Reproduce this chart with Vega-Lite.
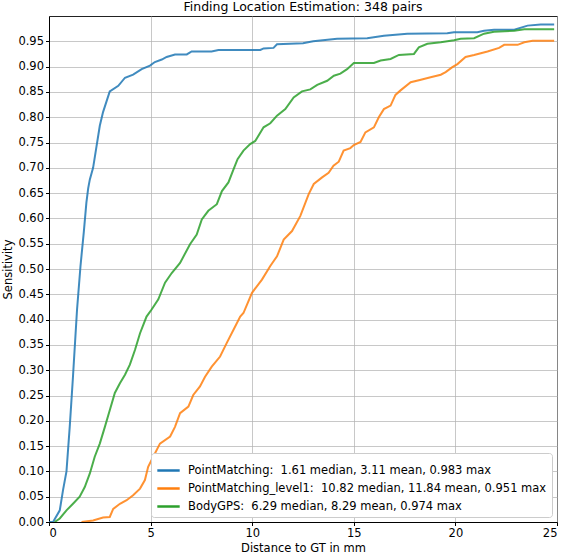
{
  "$schema": "https://vega.github.io/schema/vega-lite/v6.json",
  "width": 508,
  "height": 506,
  "autosize": {"type": "none"},
  "padding": {"left": 49, "top": 16, "right": 7, "bottom": 32},
  "title": {
    "text": "Finding Location Estimation: 348 pairs",
    "fontSize": 12.5,
    "fontWeight": "normal",
    "font": "DejaVu Sans",
    "color": "black",
    "offset": 3
  },
  "config": {
    "font": "DejaVu Sans",
    "view": {"stroke": "#222", "strokeWidth": 1},
    "axis": {
      "labelFont": "DejaVu Sans",
      "labelFontSize": 11.5,
      "labelColor": "black",
      "titleFont": "DejaVu Sans",
      "titleFontSize": 11.5,
      "titleFontWeight": "normal",
      "titleColor": "black",
      "tickColor": "black",
      "tickSize": 3.5,
      "domainColor": "black",
      "gridColor": "#b0b0b0",
      "gridOpacity": 0.7
    }
  },
  "data": {
    "values": [
      {"series": "PointMatching", "x": 0, "y": 0},
      {"series": "PointMatching", "x": 0.2, "y": 0},
      {"series": "PointMatching", "x": 0.53, "y": 0.023},
      {"series": "PointMatching", "x": 0.69, "y": 0.063},
      {"series": "PointMatching", "x": 0.86, "y": 0.1},
      {"series": "PointMatching", "x": 1.02, "y": 0.188},
      {"series": "PointMatching", "x": 1.18, "y": 0.287},
      {"series": "PointMatching", "x": 1.38, "y": 0.42},
      {"series": "PointMatching", "x": 1.55, "y": 0.506},
      {"series": "PointMatching", "x": 1.71, "y": 0.572},
      {"series": "PointMatching", "x": 1.84, "y": 0.631},
      {"series": "PointMatching", "x": 1.93, "y": 0.66},
      {"series": "PointMatching", "x": 2.01, "y": 0.677},
      {"series": "PointMatching", "x": 2.17, "y": 0.7},
      {"series": "PointMatching", "x": 2.34, "y": 0.743},
      {"series": "PointMatching", "x": 2.5, "y": 0.783},
      {"series": "PointMatching", "x": 2.66, "y": 0.81},
      {"series": "PointMatching", "x": 2.99, "y": 0.851},
      {"series": "PointMatching", "x": 3.41, "y": 0.862},
      {"series": "PointMatching", "x": 3.74, "y": 0.878},
      {"series": "PointMatching", "x": 4.14, "y": 0.884},
      {"series": "PointMatching", "x": 4.56, "y": 0.895},
      {"series": "PointMatching", "x": 4.97, "y": 0.902},
      {"series": "PointMatching", "x": 5.21, "y": 0.909},
      {"series": "PointMatching", "x": 5.55, "y": 0.914},
      {"series": "PointMatching", "x": 5.79, "y": 0.919},
      {"series": "PointMatching", "x": 6.2, "y": 0.924},
      {"series": "PointMatching", "x": 6.78, "y": 0.924},
      {"series": "PointMatching", "x": 7.02, "y": 0.93},
      {"series": "PointMatching", "x": 8.0, "y": 0.93},
      {"series": "PointMatching", "x": 8.34, "y": 0.933},
      {"series": "PointMatching", "x": 10.4, "y": 0.933},
      {"series": "PointMatching", "x": 10.56, "y": 0.936},
      {"series": "PointMatching", "x": 11.05, "y": 0.937},
      {"series": "PointMatching", "x": 11.22, "y": 0.944},
      {"series": "PointMatching", "x": 12.5, "y": 0.946},
      {"series": "PointMatching", "x": 13.0, "y": 0.95},
      {"series": "PointMatching", "x": 14.18, "y": 0.955},
      {"series": "PointMatching", "x": 15.66, "y": 0.956},
      {"series": "PointMatching", "x": 16.48, "y": 0.961},
      {"series": "PointMatching", "x": 17.63, "y": 0.965},
      {"series": "PointMatching", "x": 19.6, "y": 0.966},
      {"series": "PointMatching", "x": 19.93, "y": 0.968},
      {"series": "PointMatching", "x": 21.08, "y": 0.968},
      {"series": "PointMatching", "x": 21.41, "y": 0.971},
      {"series": "PointMatching", "x": 21.9, "y": 0.973},
      {"series": "PointMatching", "x": 22.9, "y": 0.973},
      {"series": "PointMatching", "x": 23.55, "y": 0.981},
      {"series": "PointMatching", "x": 24.2, "y": 0.983},
      {"series": "PointMatching", "x": 24.86, "y": 0.983},

      {"series": "PointMatching_level1", "x": 1.6, "y": 0},
      {"series": "PointMatching_level1", "x": 2.17, "y": 0.003},
      {"series": "PointMatching_level1", "x": 2.66, "y": 0.009},
      {"series": "PointMatching_level1", "x": 2.99, "y": 0.01},
      {"series": "PointMatching_level1", "x": 3.16, "y": 0.026},
      {"series": "PointMatching_level1", "x": 3.49, "y": 0.036},
      {"series": "PointMatching_level1", "x": 3.82, "y": 0.043},
      {"series": "PointMatching_level1", "x": 4.14, "y": 0.053},
      {"series": "PointMatching_level1", "x": 4.48, "y": 0.066},
      {"series": "PointMatching_level1", "x": 4.72, "y": 0.083},
      {"series": "PointMatching_level1", "x": 4.88, "y": 0.109},
      {"series": "PointMatching_level1", "x": 5.13, "y": 0.129},
      {"series": "PointMatching_level1", "x": 5.46, "y": 0.155},
      {"series": "PointMatching_level1", "x": 5.96, "y": 0.169},
      {"series": "PointMatching_level1", "x": 6.2, "y": 0.188},
      {"series": "PointMatching_level1", "x": 6.45, "y": 0.215},
      {"series": "PointMatching_level1", "x": 6.86, "y": 0.228},
      {"series": "PointMatching_level1", "x": 7.1, "y": 0.251},
      {"series": "PointMatching_level1", "x": 7.43, "y": 0.268},
      {"series": "PointMatching_level1", "x": 7.68, "y": 0.287},
      {"series": "PointMatching_level1", "x": 8.01, "y": 0.307},
      {"series": "PointMatching_level1", "x": 8.42, "y": 0.327},
      {"series": "PointMatching_level1", "x": 8.75, "y": 0.354},
      {"series": "PointMatching_level1", "x": 9.08, "y": 0.38},
      {"series": "PointMatching_level1", "x": 9.41, "y": 0.406},
      {"series": "PointMatching_level1", "x": 9.57, "y": 0.413},
      {"series": "PointMatching_level1", "x": 9.99, "y": 0.453},
      {"series": "PointMatching_level1", "x": 10.48, "y": 0.479},
      {"series": "PointMatching_level1", "x": 10.89, "y": 0.506},
      {"series": "PointMatching_level1", "x": 11.22, "y": 0.525},
      {"series": "PointMatching_level1", "x": 11.55, "y": 0.558},
      {"series": "PointMatching_level1", "x": 11.96, "y": 0.575},
      {"series": "PointMatching_level1", "x": 12.37, "y": 0.605},
      {"series": "PointMatching_level1", "x": 12.78, "y": 0.648},
      {"series": "PointMatching_level1", "x": 13.03, "y": 0.668},
      {"series": "PointMatching_level1", "x": 13.44, "y": 0.681},
      {"series": "PointMatching_level1", "x": 13.76, "y": 0.69},
      {"series": "PointMatching_level1", "x": 14.0, "y": 0.704},
      {"series": "PointMatching_level1", "x": 14.26, "y": 0.712},
      {"series": "PointMatching_level1", "x": 14.5, "y": 0.734},
      {"series": "PointMatching_level1", "x": 14.83, "y": 0.739},
      {"series": "PointMatching_level1", "x": 15.0, "y": 0.745},
      {"series": "PointMatching_level1", "x": 15.33, "y": 0.751},
      {"series": "PointMatching_level1", "x": 15.57, "y": 0.77},
      {"series": "PointMatching_level1", "x": 15.99, "y": 0.78},
      {"series": "PointMatching_level1", "x": 16.23, "y": 0.8},
      {"series": "PointMatching_level1", "x": 16.48, "y": 0.816},
      {"series": "PointMatching_level1", "x": 16.81, "y": 0.823},
      {"series": "PointMatching_level1", "x": 17.05, "y": 0.844},
      {"series": "PointMatching_level1", "x": 17.3, "y": 0.853},
      {"series": "PointMatching_level1", "x": 17.8, "y": 0.869},
      {"series": "PointMatching_level1", "x": 18.3, "y": 0.874},
      {"series": "PointMatching_level1", "x": 18.78, "y": 0.879},
      {"series": "PointMatching_level1", "x": 19.28, "y": 0.884},
      {"series": "PointMatching_level1", "x": 19.52, "y": 0.889},
      {"series": "PointMatching_level1", "x": 19.85, "y": 0.899},
      {"series": "PointMatching_level1", "x": 20.1, "y": 0.905},
      {"series": "PointMatching_level1", "x": 20.5, "y": 0.919},
      {"series": "PointMatching_level1", "x": 20.92, "y": 0.923},
      {"series": "PointMatching_level1", "x": 21.58, "y": 0.93},
      {"series": "PointMatching_level1", "x": 22.15, "y": 0.937},
      {"series": "PointMatching_level1", "x": 22.4, "y": 0.943},
      {"series": "PointMatching_level1", "x": 23.06, "y": 0.943},
      {"series": "PointMatching_level1", "x": 23.39, "y": 0.948},
      {"series": "PointMatching_level1", "x": 23.8, "y": 0.951},
      {"series": "PointMatching_level1", "x": 24.86, "y": 0.951},

      {"series": "BodyGPS", "x": 0.28, "y": 0},
      {"series": "BodyGPS", "x": 0.53, "y": 0.007},
      {"series": "BodyGPS", "x": 0.86, "y": 0.023},
      {"series": "BodyGPS", "x": 1.18, "y": 0.036},
      {"series": "BodyGPS", "x": 1.51, "y": 0.05},
      {"series": "BodyGPS", "x": 1.76, "y": 0.069},
      {"series": "BodyGPS", "x": 2.01, "y": 0.096},
      {"series": "BodyGPS", "x": 2.25, "y": 0.129},
      {"series": "BodyGPS", "x": 2.5, "y": 0.155},
      {"series": "BodyGPS", "x": 2.75, "y": 0.188},
      {"series": "BodyGPS", "x": 2.99, "y": 0.221},
      {"series": "BodyGPS", "x": 3.24, "y": 0.255},
      {"series": "BodyGPS", "x": 3.49, "y": 0.274},
      {"series": "BodyGPS", "x": 3.74, "y": 0.291},
      {"series": "BodyGPS", "x": 3.98, "y": 0.311},
      {"series": "BodyGPS", "x": 4.23, "y": 0.34},
      {"series": "BodyGPS", "x": 4.48, "y": 0.373},
      {"series": "BodyGPS", "x": 4.8, "y": 0.406},
      {"series": "BodyGPS", "x": 5.05, "y": 0.42},
      {"series": "BodyGPS", "x": 5.38, "y": 0.44},
      {"series": "BodyGPS", "x": 5.71, "y": 0.473},
      {"series": "BodyGPS", "x": 6.04, "y": 0.492},
      {"series": "BodyGPS", "x": 6.45, "y": 0.512},
      {"series": "BodyGPS", "x": 6.94, "y": 0.549},
      {"series": "BodyGPS", "x": 7.27, "y": 0.568},
      {"series": "BodyGPS", "x": 7.52, "y": 0.598},
      {"series": "BodyGPS", "x": 7.84, "y": 0.615},
      {"series": "BodyGPS", "x": 8.26, "y": 0.628},
      {"series": "BodyGPS", "x": 8.51, "y": 0.654},
      {"series": "BodyGPS", "x": 8.83, "y": 0.671},
      {"series": "BodyGPS", "x": 9.08, "y": 0.697},
      {"series": "BodyGPS", "x": 9.28, "y": 0.717},
      {"series": "BodyGPS", "x": 9.57, "y": 0.734},
      {"series": "BodyGPS", "x": 9.9, "y": 0.747},
      {"series": "BodyGPS", "x": 10.15, "y": 0.753},
      {"series": "BodyGPS", "x": 10.56, "y": 0.78},
      {"series": "BodyGPS", "x": 10.89, "y": 0.788},
      {"series": "BodyGPS", "x": 11.22, "y": 0.803},
      {"series": "BodyGPS", "x": 11.63, "y": 0.816},
      {"series": "BodyGPS", "x": 12.04, "y": 0.839},
      {"series": "BodyGPS", "x": 12.45, "y": 0.851},
      {"series": "BodyGPS", "x": 12.86, "y": 0.855},
      {"series": "BodyGPS", "x": 13.2, "y": 0.864},
      {"series": "BodyGPS", "x": 13.69, "y": 0.872},
      {"series": "BodyGPS", "x": 14.02, "y": 0.882},
      {"series": "BodyGPS", "x": 14.34, "y": 0.886},
      {"series": "BodyGPS", "x": 14.67, "y": 0.895},
      {"series": "BodyGPS", "x": 15.0, "y": 0.907},
      {"series": "BodyGPS", "x": 15.99, "y": 0.907},
      {"series": "BodyGPS", "x": 16.32, "y": 0.912},
      {"series": "BodyGPS", "x": 16.81, "y": 0.915},
      {"series": "BodyGPS", "x": 17.22, "y": 0.923},
      {"series": "BodyGPS", "x": 17.96, "y": 0.925},
      {"series": "BodyGPS", "x": 18.2, "y": 0.938},
      {"series": "BodyGPS", "x": 18.62, "y": 0.945},
      {"series": "BodyGPS", "x": 19.28, "y": 0.948},
      {"series": "BodyGPS", "x": 19.93, "y": 0.952},
      {"series": "BodyGPS", "x": 20.26, "y": 0.955},
      {"series": "BodyGPS", "x": 20.92, "y": 0.956},
      {"series": "BodyGPS", "x": 21.41, "y": 0.965},
      {"series": "BodyGPS", "x": 21.9, "y": 0.969},
      {"series": "BodyGPS", "x": 22.9, "y": 0.971},
      {"series": "BodyGPS", "x": 23.39, "y": 0.974},
      {"series": "BodyGPS", "x": 24.86, "y": 0.974}
    ]
  },
  "mark": {"type": "line", "strokeWidth": 2, "strokeOpacity": 0.85, "clip": true},
  "encoding": {
    "x": {
      "field": "x",
      "type": "quantitative",
      "title": "Distance to GT in mm",
      "scale": {"domain": [0, 25], "nice": false, "zero": false},
      "axis": {"values": [0, 5, 10, 15, 20, 25], "titlePadding": 3, "labelPadding": 2}
    },
    "y": {
      "field": "y",
      "type": "quantitative",
      "title": "Sensitivity",
      "scale": {"domain": [0, 1], "nice": false},
      "axis": {
        "values": [0, 0.05, 0.1, 0.15, 0.2, 0.25, 0.3, 0.35, 0.4, 0.45, 0.5, 0.55, 0.6, 0.65, 0.7, 0.75, 0.8, 0.85, 0.9, 0.95],
        "format": ".2f",
        "titlePadding": 4,
        "labelPadding": 2
      }
    },
    "color": {
      "field": "series",
      "type": "nominal",
      "sort": null,
      "scale": {
        "domain": ["PointMatching", "PointMatching_level1", "BodyGPS"],
        "range": ["#1f77b4", "#ff7f0e", "#2ca02c"]
      },
      "legend": {
        "title": null,
        "orient": "bottom-right",
        "offset": 5,
        "symbolType": "stroke",
        "symbolSize": 500,
        "symbolStrokeWidth": 2.5,
        "labelFontSize": 11.5,
        "labelFont": "DejaVu Sans",
        "labelColor": "black",
        "labelLimit": 500,
        "labelOffset": 7,
        "rowPadding": -8,
        "padding": 5,
        "fillColor": "white",
        "strokeColor": "#cccccc",
        "cornerRadius": 3,
        "labelExpr": "datum.label == 'PointMatching' ? 'PointMatching:\u00a0 1.61 median, 3.11 mean, 0.983 max' : datum.label == 'PointMatching_level1' ? 'PointMatching_level1:\u00a0 10.82 median, 11.84 mean, 0.951 max' : 'BodyGPS:\u00a0 6.29 median, 8.29 mean, 0.974 max'"
      }
    }
  }
}
